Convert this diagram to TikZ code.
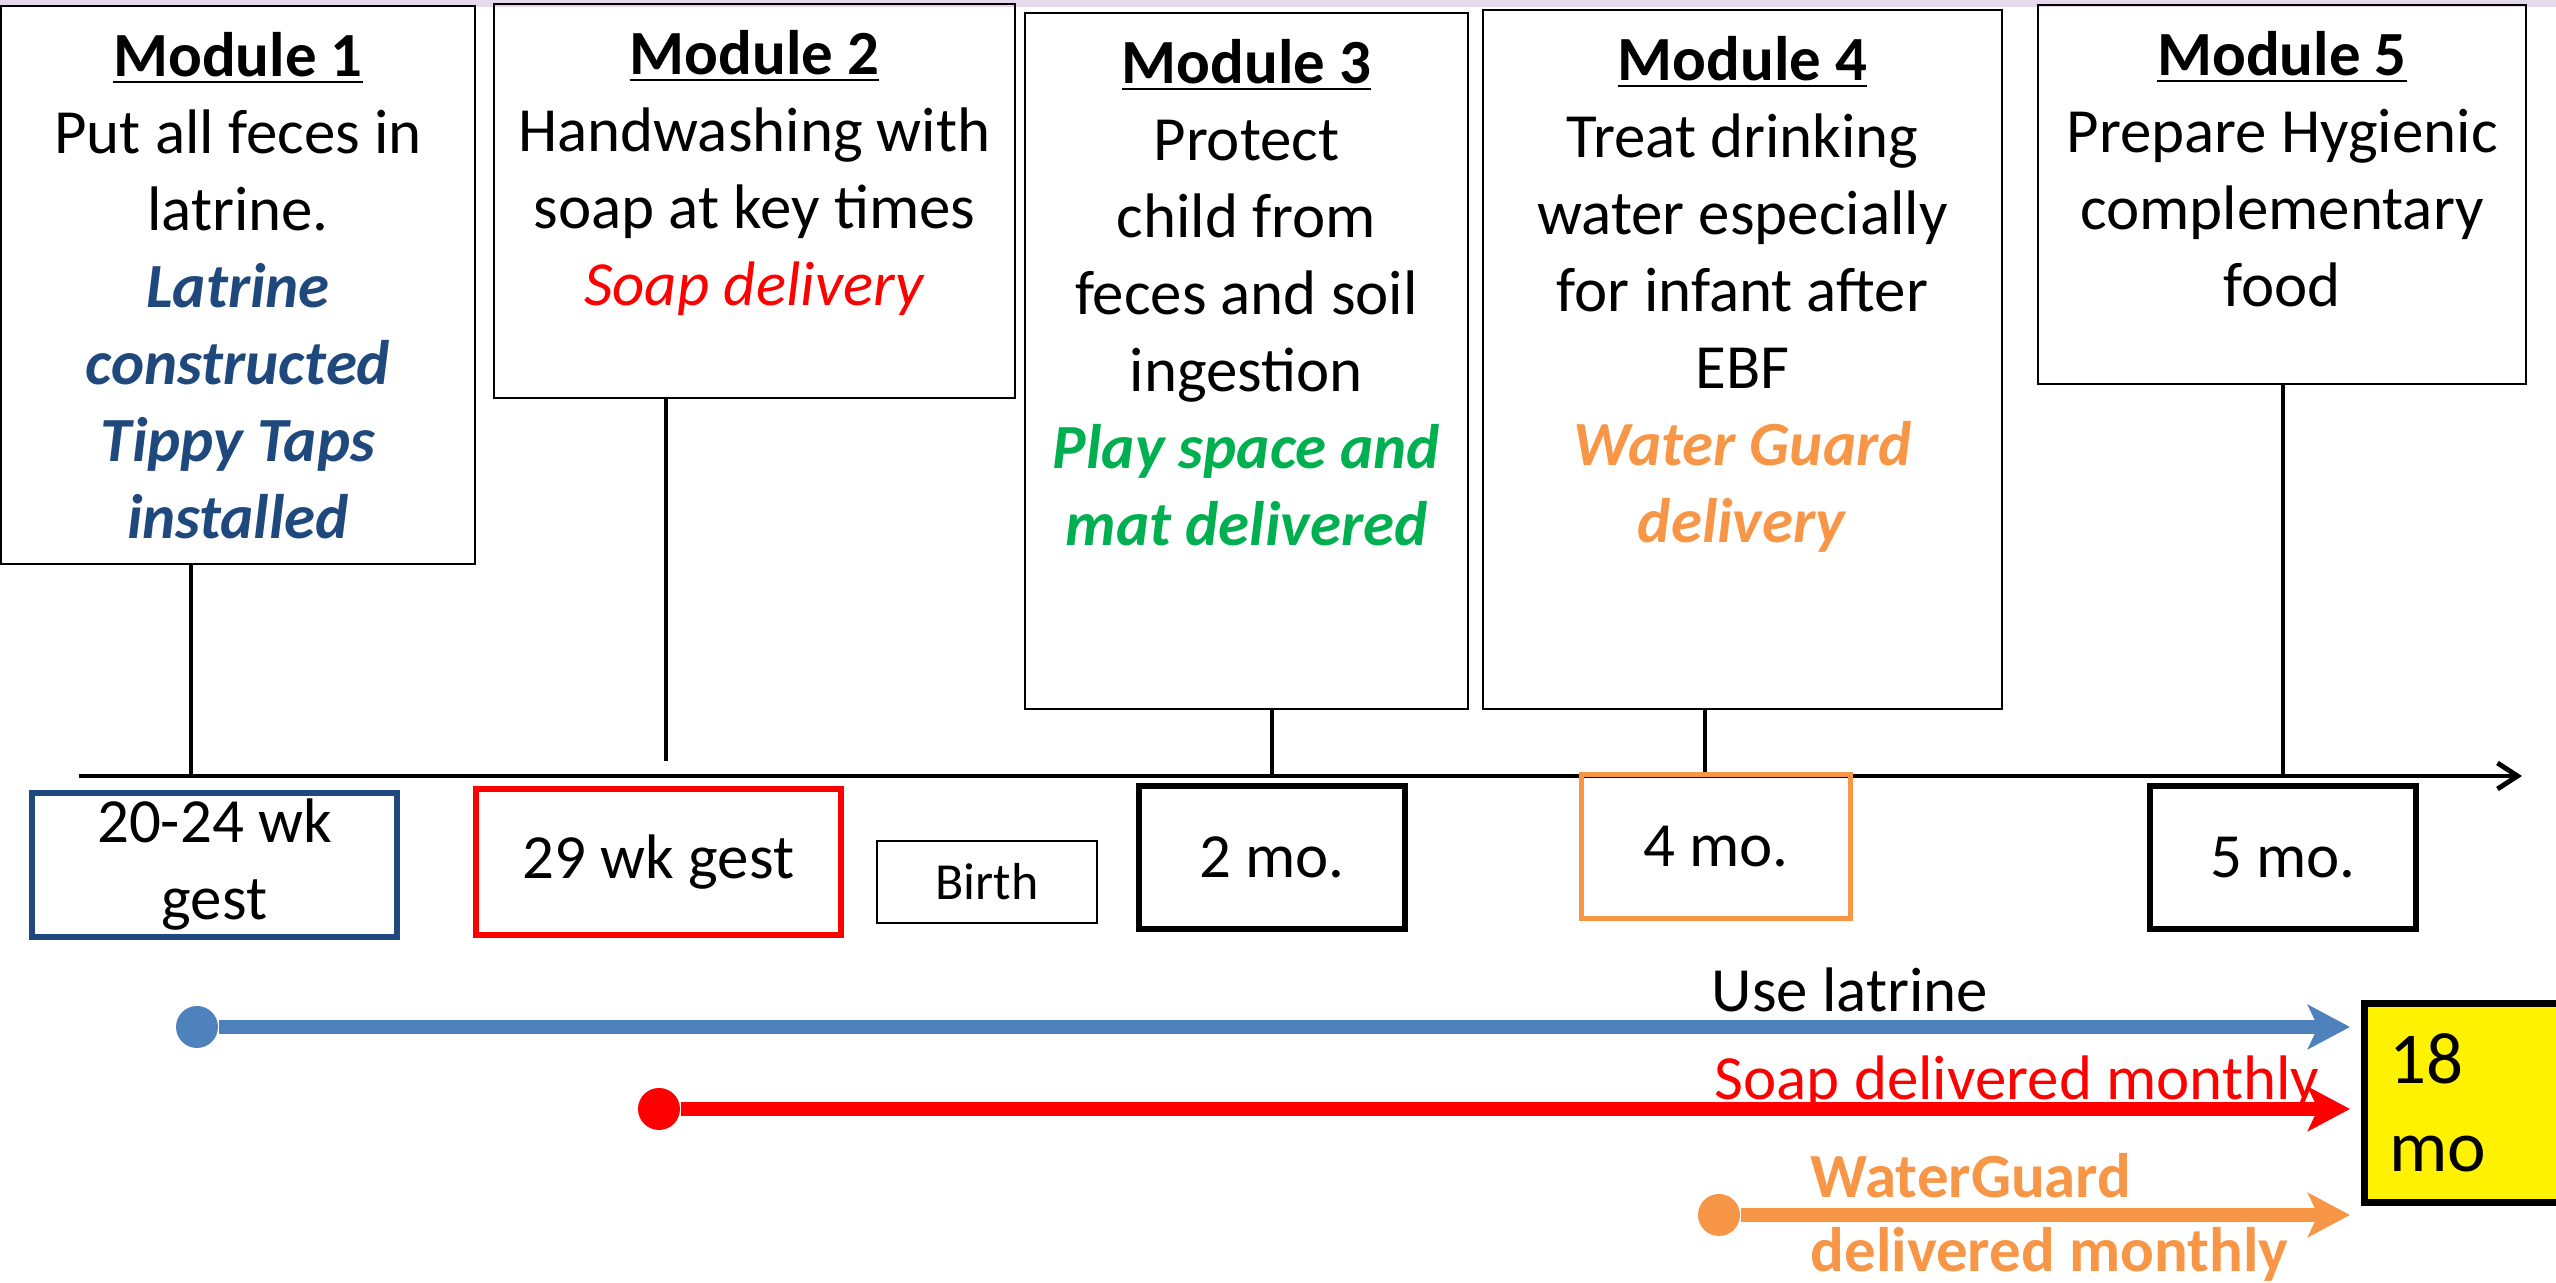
\documentclass[tikz,border=0pt]{standalone}
\usepackage{xcolor}
\usepackage{fontspec}
\setmainfont{Carlito}
\usepackage{tikz}
\usetikzlibrary{arrows.meta}

\definecolor{latblue}{HTML}{1F497D}
\definecolor{soapred}{HTML}{FF0000}
\definecolor{playgreen}{HTML}{00B050}
\definecolor{wgorange}{HTML}{F79646}
\definecolor{arrowblue}{HTML}{4F81BD}
\definecolor{band}{HTML}{E6D9EC}

\begin{document}
\begin{tikzpicture}[
		module/.style={rectangle, draw, line width=0.7pt},
		modtext/.style={anchor=north, align=center, inner sep=0pt, font=\fontsize{17.9}{21.9}\selectfont},
		datebox/.style={rectangle, draw, line width=1.8pt, align=center, inner sep=0pt, font=\fontsize{17.9}{21.9}\selectfont},
		stem/.style={line width=1pt},
		axis/.style={line width=1.4pt, -{Straight Barb[length=0.2cm,width=0.26cm]}},
		dot/.style={circle, inner sep=0pt, minimum size=0.42cm},
		progress/.style={line width=4pt, -{Stealth[length=0.42cm,width=0.44cm,inset=0.1cm]}, shorten >=0.11cm},
		lbl/.style={inner sep=0pt, font=\fontsize{17.9}{21.9}\selectfont}
	]
		\useasboundingbox (0,0) rectangle (25.56,-12.83);
		\clip (0,0) rectangle (25.56,-12.83);
		\fill[band] (0,0) rectangle (25.56,-0.07);
		
		% Modules
		\node[module, minimum width=4.74cm, minimum height=5.58cm] (m1) at (2.38,-2.85) {};
		\node[module, minimum width=5.21cm, minimum height=3.94cm] (m2) at (7.545,-2.01) {};
		\node[module, minimum width=4.43cm, minimum height=6.96cm] (m3) at (12.465,-3.61) {};
		\node[module, minimum width=5.19cm, minimum height=6.99cm] (m4) at (17.425,-3.595) {};
		\node[module, minimum width=4.88cm, minimum height=3.79cm] (m5) at (22.82,-1.945) {};
		
		\node[modtext] (m1t) at ([yshift=-0.27cm]m1.north) {\underline{\textbf{Module 1}}\\Put all feces in\\latrine.\\
			\textcolor{latblue}{\textbf{\textit{Latrine}}}\\\textcolor{latblue}{\textbf{\textit{constructed}}}\\
			\textcolor{latblue}{\textbf{\textit{Tippy Taps}}}\\\textcolor{latblue}{\textbf{\textit{installed}}}};
		\node[modtext] (m2t) at ([yshift=-0.27cm]m2.north) {\underline{\textbf{Module 2}}\\Handwashing with\\soap at key times\\
			\textcolor{soapred}{\textit{Soap delivery}}};
		\node[modtext] (m3t) at ([yshift=-0.27cm]m3.north) {\underline{\textbf{Module 3}}\\Protect\\child from\\feces and soil\\ingestion\\
			\textcolor{playgreen}{\textbf{\textit{Play space and}}}\\\textcolor{playgreen}{\textbf{\textit{mat delivered}}}};
		\node[modtext] (m4t) at ([yshift=-0.27cm]m4.north) {\underline{\textbf{Module 4}}\\Treat drinking\\water especially\\for infant after\\EBF\\
			\textcolor{wgorange}{\textbf{\textit{Water Guard}}}\\\textcolor{wgorange}{\textbf{\textit{delivery}}}};
		\node[modtext] (m5t) at ([yshift=-0.27cm]m5.north) {\underline{\textbf{Module 5}}\\Prepare Hygienic\\complementary\\food};
		
		% Time axis
		\coordinate (ax0) at (0.79,-7.76);
		\coordinate (ax1) at (25.22,-7.76);
		\draw[axis] (ax0) -- (ax1);
		
		\coordinate (t1) at (1.91,-7.76);
		\coordinate (t2) at (6.66,-7.61);
		\coordinate (t3) at (12.72,-7.76);
		\coordinate (t4) at (17.05,-7.76);
		\coordinate (t5) at (22.83,-7.76);
		
		% Stems
		\draw[stem] (m1.south -| t1) -- (t1);
		\draw[stem] (m2.south -| t2) -- (t2);
		\draw[stem] (m3.south -| t3) -- (t3);
		\draw[stem] (m4.south -| t4) -- (t4);
		\draw[stem] (m5.south -| t5) -- (t5);
		
		% Time points
		\node[datebox, draw=latblue, minimum width=3.65cm, minimum height=1.44cm] (d1) at (2.145,-8.65) {20-24 wk\\gest};
		\node[datebox, draw=soapred, minimum width=3.65cm, minimum height=1.46cm] (d2) at (6.585,-8.62) {29 wk gest};
		\node[datebox, line width=0.6pt, minimum width=2.2cm, minimum height=0.82cm, font=\fontsize{14.8}{18}\selectfont] (birth) at (9.87,-8.82) {Birth};
		\node[datebox, minimum width=2.66cm, minimum height=1.43cm] (d3) at (12.72,-8.575) {2 mo.};
		\node[datebox, draw=wgorange, line width=1.5pt, minimum width=2.69cm, minimum height=1.44cm] (d4) at (17.16,-8.465) {4 mo.};
		\node[datebox, minimum width=2.66cm, minimum height=1.43cm] (d5) at (22.83,-8.575) {5 mo.};
		
		\node[datebox, fill=yellow, line width=2pt, anchor=west, minimum width=2.6cm, minimum height=1.99cm,
			inner xsep=0.25cm, text width=2.1cm, align=left, font=\fontsize{20.8}{25}\selectfont] (mo18) at (23.61,-11.03) {18\\mo};
		
		% Delivery arrows
		\node[dot, fill=arrowblue] (u0) at (1.97,-10.27) {};
		\node[dot, fill=soapred] (s0) at (6.59,-11.09) {};
		\node[dot, fill=wgorange] (w0) at (17.19,-12.15) {};
		
		\draw[progress, arrowblue] (u0) -- (u0 -| mo18.west);
		\draw[progress, soapred] (s0) -- (s0 -| mo18.west);
		\draw[progress, wgorange] (w0) -- (w0 -| mo18.west);
		
		% Labels
		\node[lbl, anchor=base] (ulbl) at (18.50,-10.12) {Use latrine};
		\node[lbl, anchor=base, text=soapred] (slbl) at (20.17,-11.00) {Soap delivered monthly};
		\node[lbl, anchor=north west, align=left, text=wgorange, font=\fontsize{17.9}{20.9}\selectfont\bfseries] (wlbl) at (18.10,-11.53) {WaterGuard\\delivered monthly};
	\end{tikzpicture}
\end{document}
